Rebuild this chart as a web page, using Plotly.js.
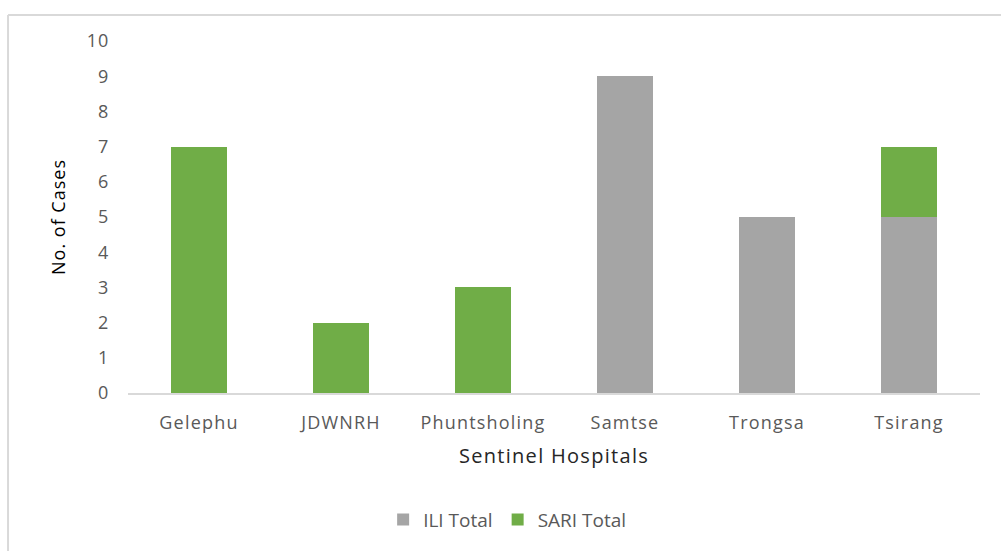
<!DOCTYPE html>
<html>
<head>
<meta charset="utf-8">
<script src="https://cdn.plot.ly/plotly-3.0.1.min.js"></script>
<style>
html,body{margin:0;padding:0;background:#fff;}
#chart{width:1001px;height:551px;}
#chart .xtick text{letter-spacing:1.2px;}
#chart .ytick text{letter-spacing:0.8px;}
#chart .xtitle{letter-spacing:1.3px;}
#chart .ytitle{letter-spacing:1px;}
</style>
</head>
<body>
<div id="chart"></div>
<script>
const categories = ["Gelephu", "JDWNRH", "Phuntsholing", "Samtse", "Trongsa", "Tsirang"];
const iliTotal = [0, 0, 0, 9, 5, 5];
const sariTotal = [7, 2, 3, 0, 0, 2];
const yTicks = [0, 1, 2, 3, 4, 5, 6, 7, 8, 9, 10];

const FONT = "Open Sans, Noto Sans, sans-serif";

const traces = [
  {type: "bar", name: "ILI Total", x: categories, y: iliTotal,
   marker: {color: "#a5a5a5"}, hoverinfo: "x+y+name"},
  {type: "bar", name: "SARI Total", x: categories, y: sariTotal,
   marker: {color: "#70ad47"}, hoverinfo: "x+y+name"}
];

const layout = {
  width: 1001, height: 551,
  barmode: "stack",
  bargap: 0.6,
  paper_bgcolor: "#fff", plot_bgcolor: "#fff",
  margin: {l: 128, r: 21, t: 41, b: 158},
  font: {family: FONT, color: "#595959", size: 18},
  xaxis: {
    type: "category",
    showgrid: false, zeroline: false,
    showline: true, linecolor: "#d9d9d9", linewidth: 2,
    ticks: "", ticklabelstandoff: 12,
    tickfont: {family: FONT, size: 18, color: "#595959"},
    title: {text: "Sentinel Hospitals", font: {family: FONT, size: 20, color: "#262626"}, standoff: 16}
  },
  yaxis: {
    range: [0, 10], tickvals: yTicks, ticktext: yTicks.map(String),
    showgrid: false, zeroline: false, showline: false,
    ticks: "", ticklabelstandoff: 18,
    tickfont: {family: FONT, size: 18, color: "#595959"},
    title: {text: "No. of Cases", font: {family: FONT, size: 18, color: "#000"}, standoff: 18}
  },
  legend: {
    orientation: "h", x: 0.445, xanchor: "center", y: -0.36, yanchor: "middle",
    font: {family: FONT, size: 19, color: "#595959"},
    itemwidth: 30, traceorder: "normal"
  },
  shapes: [
    {type: "line", xref: "paper", yref: "paper", x0: -0.1408, x1: -0.1408, y0: -0.5, y1: 1.074,
     line: {color: "#d9d9d9", width: 2}},
    {type: "line", xref: "paper", yref: "paper", x0: -0.1408, x1: 1.1, y0: 1.074, y1: 1.074,
     line: {color: "#d9d9d9", width: 2}}
  ],
  showlegend: true
};

Plotly.newPlot("chart", traces, layout, {displayModeBar: false, staticPlot: true});
</script>
</body>
</html>
